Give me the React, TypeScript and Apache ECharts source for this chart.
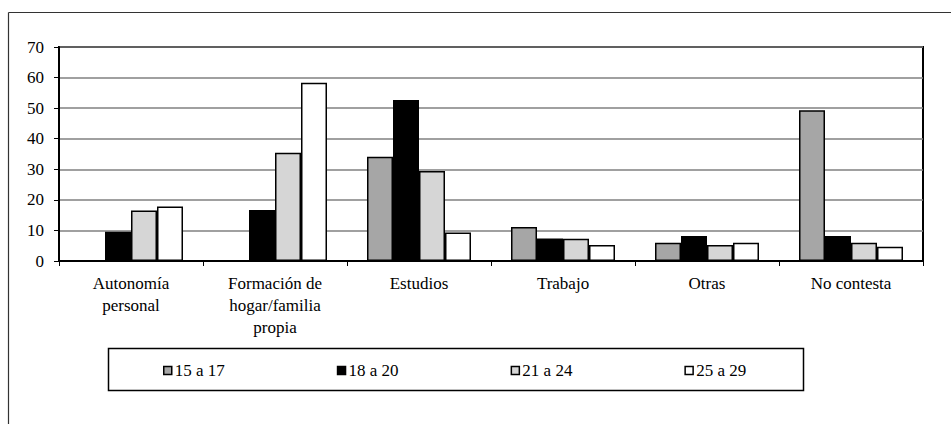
import React, { useEffect, useRef } from "react";
import * as echarts from "echarts";

const categories = [
  "Autonomía\npersonal",
  "Formación de\nhogar/familia\npropia",
  "Estudios",
  "Trabajo",
  "Otras",
  "No contesta",
];
const seriesNames = ["15 a 17", "18 a 20", "21 a 24", "25 a 29"];
const v15a17 = [0, 0, 34.1, 11.1, 6.0, 49.3];
const v18a20 = [9.6, 16.7, 52.7, 7.4, 8.2, 8.2];
const v21a24 = [16.5, 35.4, 29.4, 7.3, 5.2, 6.0];
const v25a29 = [17.8, 58.3, 9.3, 5.2, 6.0, 4.7];
const seriesValues = [v15a17, v18a20, v21a24, v25a29];
const seriesColors = ["#a6a6a6", "#000000", "#d6d6d6", "#ffffff"];
const yTicks = [0, 10, 20, 30, 40, 50, 60, 70];

const FONT = "Liberation Serif";

export default function App() {
  const ref = useRef<HTMLDivElement>(null);
  useEffect(() => {
    if (!ref.current) return;
    const chart = echarts.init(ref.current, undefined, { renderer: "svg" });
    chart.setOption({
      animation: false,
      backgroundColor: "#ffffff",
      textStyle: { fontFamily: FONT, color: "#000" },
      grid: {
        left: 59,
        right: 28,
        top: 47,
        bottom: 163,
        show: true,
        borderColor: "#000",
        borderWidth: 2,
        outerBoundsMode: "none",
        containLabel: false,
      },
      legend: {
        data: seriesNames,
        left: 163,
        top: 362,
        itemWidth: 8,
        itemHeight: 8,
        itemGap: 112,
        icon: "rect",
        padding: 0,
        itemStyle: { borderColor: "#000", borderWidth: 1.5 },
        textStyle: { fontFamily: FONT, fontSize: 17, color: "#000", padding: [0, 0, 0, -2] },
      },
      xAxis: {
        type: "category",
        data: categories,
        axisLine: { lineStyle: { color: "#000", width: 2 } },
        axisTick: { show: true, length: 5, lineStyle: { color: "#000", width: 1 } },
        axisLabel: {
          fontFamily: FONT,
          fontSize: 17,
          color: "#000",
          lineHeight: 22,
          margin: 11,
          interval: 0,
        },
      },
      yAxis: {
        type: "value",
        min: yTicks[0],
        max: yTicks[yTicks.length - 1],
        interval: 10,
        axisLine: { show: true, lineStyle: { color: "#000", width: 2 } },
        axisTick: { show: true, length: 5, lineStyle: { color: "#000", width: 1 } },
        axisLabel: { fontFamily: FONT, fontSize: 17, color: "#000", margin: 15 },
        splitLine: { show: true, lineStyle: { color: "#808080", width: 1.5 } },
      },
      series: seriesNames.map((name, i) => ({
        name,
        type: "bar",
        data: seriesValues[i],
        barWidth: 26,
        barGap: "0%",
        itemStyle: { color: seriesColors[i], borderColor: "#000", borderWidth: 1.5 },
      })),
      graphic: [
        {
          type: "line",
          shape: { x1: 8.5, y1: 12.5, x2: 951, y2: 12.5 },
          style: { stroke: "#333", lineWidth: 1.2 },
          silent: true,
        },
        {
          type: "line",
          shape: { x1: 8.5, y1: 12.5, x2: 8.5, y2: 424 },
          style: { stroke: "#333", lineWidth: 1.2 },
          silent: true,
        },
        {
          type: "rect",
          shape: { x: 108.5, y: 348.5, width: 695, height: 42 },
          style: { fill: "none", stroke: "#000", lineWidth: 1.5 },
          silent: true,
        },
      ],
    });
    return () => chart.dispose();
  }, []);
  return (
    <div
      ref={ref}
      style={{ position: "fixed", left: 0, top: 0, width: 951, height: 424 }}
    />
  );
}
